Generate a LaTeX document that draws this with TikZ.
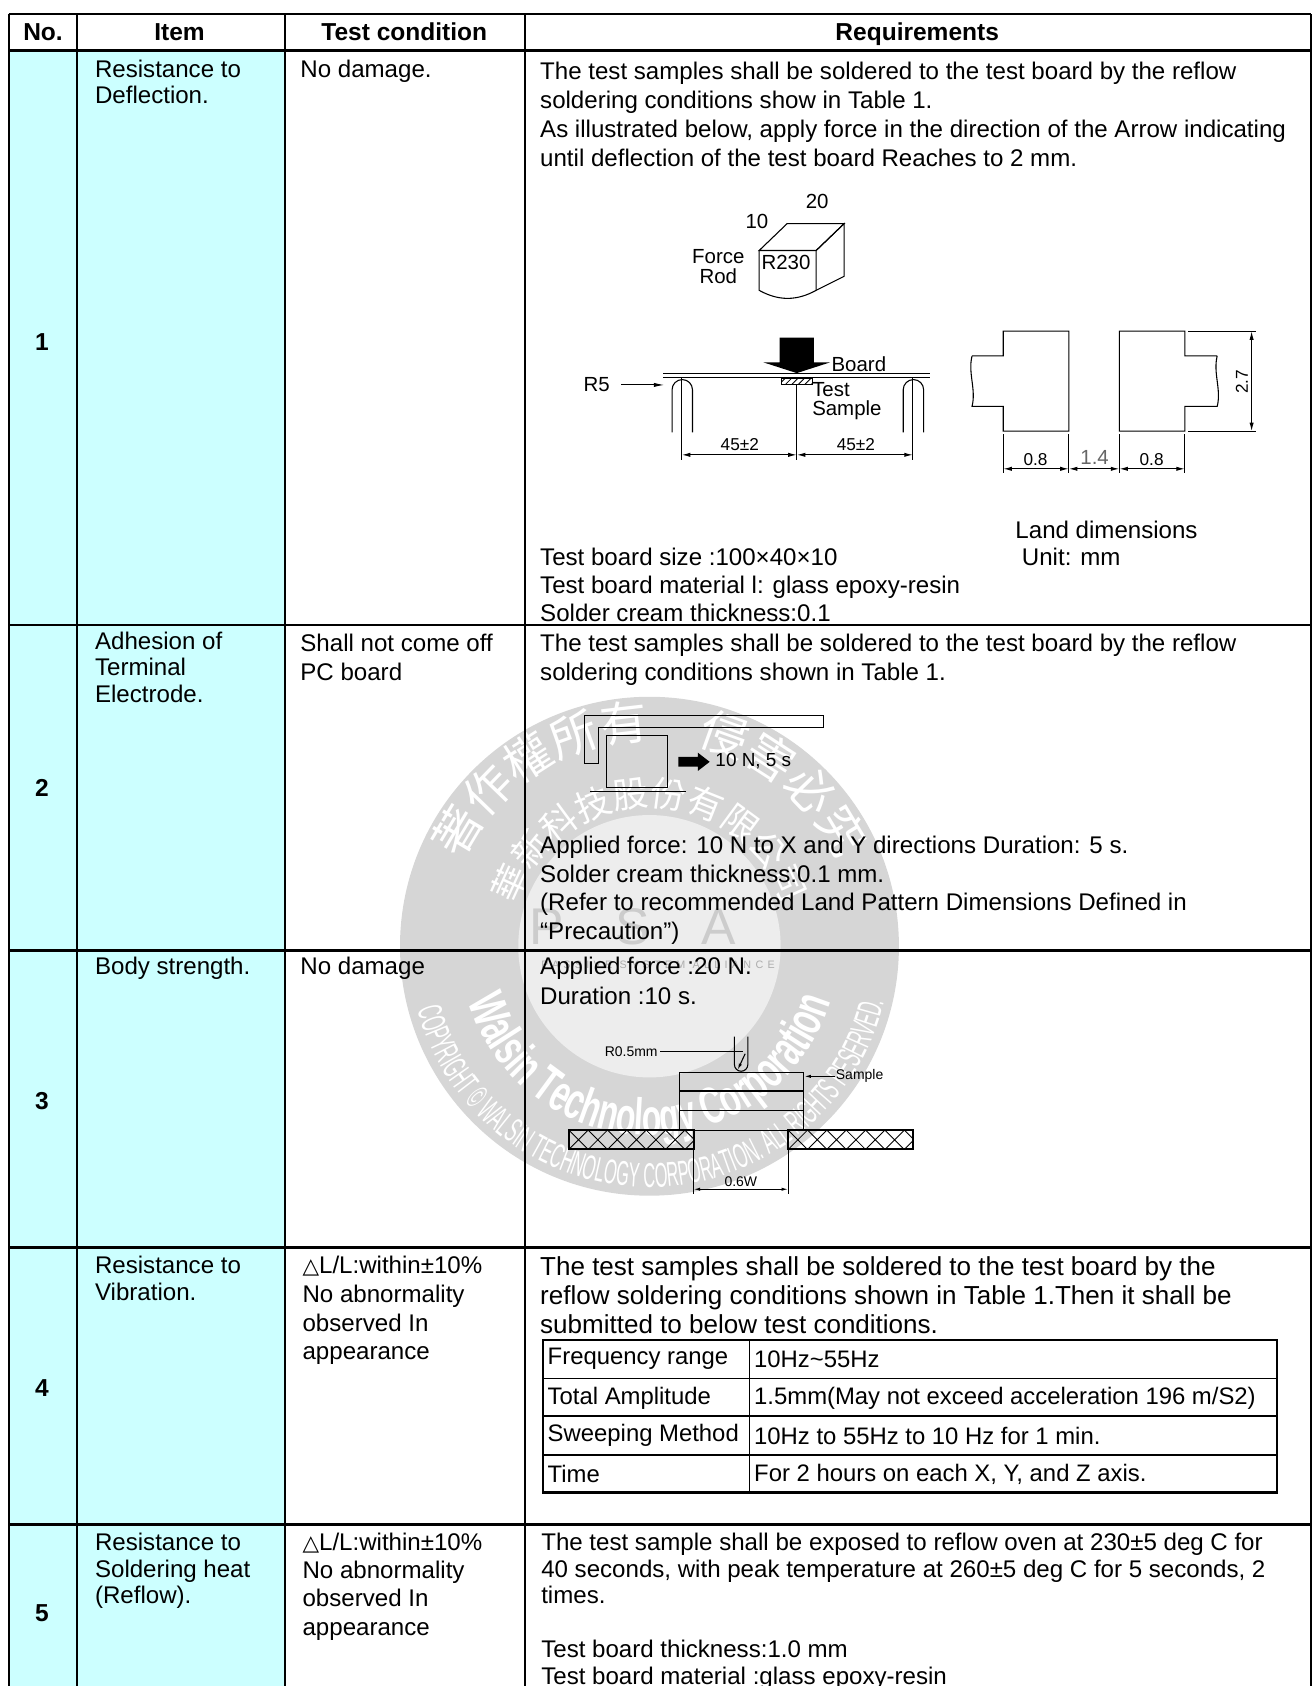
\documentclass[tikz,border=0pt]{standalone}
\usepackage{fontspec}
\setmainfont{Liberation Sans}
\newfontfamily\trifont{DejaVu Sans}
\newfontfamily\cjkfont{Noto Sans CJK TC}
\newfontfamily\wmfont[FakeStretch=0.48]{Liberation Sans}
\newfontfamily\wmboldfont[FakeStretch=0.62]{Liberation Sans}
\usetikzlibrary{arrows.meta,patterns,decorations.text}

\definecolor{itemcyan}{RGB}{204,255,255}
\definecolor{wmgray}{RGB}{214,214,214}
\definecolor{wmlight}{RGB}{237,237,237}
\definecolor{wmletter}{RGB}{204,204,204}

\newcommand{\dtri}{{\trifont\fontsize{10pt}{10pt}\selectfont △}}

\tikzset{
  tableline/.style={line width=1pt},
  heavyline/.style={line width=1.6pt},
  fig/.style={line width=0.5pt},
  dimarrow/.style={line width=0.5pt, {Latex[length=4pt,width=2pt]}-{Latex[length=4pt,width=2pt]}},
  headtext/.style={anchor=base, inner sep=0pt, font=\bfseries\fontsize{11.4pt}{12pt}\selectfont},
  celltext/.style={anchor=north west, inner sep=0pt, align=left, font=\fontsize{11.2pt}{13.5pt}\selectfont},
  itemtext/.style={anchor=north west, inner sep=0pt, align=left, font=\fontsize{11.2pt}{12.5pt}\selectfont},
  tabtext/.style={anchor=west, inner sep=0pt, font=\fontsize{11.1pt}{12pt}\selectfont},
  figlabel/.style={inner sep=0pt, font=\fontsize{9.5pt}{9pt}\selectfont},
  dimlabel/.style={inner sep=0pt, font=\fontsize{8pt}{8pt}\selectfont},
  smalllabel/.style={inner sep=0pt, font=\fontsize{6.5pt}{6.5pt}\selectfont},
}

\begin{document}
\begin{tikzpicture}[x=0.5pt, y=-0.5pt]
    \useasboundingbox (0,0) rectangle (1220,1568);

    % Draw the shaded columns
    \fill[itemcyan] (8,47) rectangle (265,1568);

    % Draw the watermark
    \begin{scope}[shift={(604,880)}, y=0.5pt]
        \fill[wmgray] (0,0) circle[radius=232];
        \fill[wmlight] (0,0) circle[radius=122];
        \node[text=wmletter, font=\fontsize{24pt}{24pt}\selectfont] (psa) at (-16,18) {P\hspace{24pt}S\hspace{24pt}A};
        \node[text=wmletter!85!black, font=\fontsize{5pt}{5pt}\selectfont\addfontfeature{LetterSpace=40}] (psaname) at (8,-17) {PASSIVE SYSTEM ALLIANCE};
        \path[decorate, decoration={text along path, text align=center,
            text={|\cjkfont\fontsize{22pt}{22pt}\selectfont\color{white}|著作權所有　侵害必究}}]
            (165:192) arc[start angle=165, end angle=15, radius=192];
        \path[decorate, decoration={text along path, text align=center,
            text={|\cjkfont\fontsize{16.5pt}{16.5pt}\selectfont\color{white}|華新科技股份有限公司}}]
            (170:130) arc[start angle=170, end angle=10, radius=130];
        \path[decorate, decoration={text along path, text align=center,
            text={|\wmfont\fontsize{16pt}{16pt}\selectfont\color{white}|COPYRIGHT © WALSIN TECHNOLOGY CORPORATION. ALL RIGHTS RESERVED.}}]
            (185:224) arc[start angle=185, end angle=357, radius=224];
        \path[decorate, decoration={text along path, text align=center,
            text={|\wmboldfont\bfseries\fontsize{24pt}{24pt}\selectfont\color{white}|Walsin Technology Corporation}}]
            (192:176) arc[start angle=192, end angle=348, radius=176];
    \end{scope}

    % Draw the table rules
    \draw[tableline] (8,13) -- (1219,13);
    \draw[heavyline] (8,47) -- (1219,47);
    \draw[tableline] (8,581) -- (1219,581);
    \draw[tableline] (8,884) -- (1219,884);
    \draw[heavyline] (8,1160) -- (1219,1160);
    \draw[heavyline] (8,1418) -- (1219,1418);
    \foreach \cx in {8,72,265,488,1219}
        \draw[tableline] (\cx,13) -- (\cx,1568);

    % Draw the header
    \node[headtext] (hno) at (40,38) {No.};
    \node[headtext] (hitem) at (167,38) {Item};
    \node[headtext] (hcond) at (376,38) {Test condition};
    \node[headtext] (hreq) at (853,38) {Requirements};
    \foreach \rn/\ry in {1/326,2/741,3/1032,4/1299,5/1508}
        \node[headtext] (no\rn) at (39,\ry) {\rn};

    % Row 1: resistance to deflection
    \node[itemtext] (item1) at (88,55) {Resistance to\\Deflection.};
    \node[celltext] (cond1) at (279,55) {No damage.};
    \node[celltext] (req1) at (502,57) {The test samples shall be soldered to the test board by the reflow\\soldering conditions show in Table 1.\\As illustrated below, apply force in the direction of the Arrow indicating\\until deflection of the test board Reaches to 2 mm.};
    \node[celltext, font=\fontsize{11.2pt}{13.1pt}\selectfont] (board1) at (502,509) {Test board size :100×40×10\\Test board material l: glass epoxy-resin\\Solder cream thickness:0.1};
    \node[itemtext] (landcap) at (944,484) {Land dimensions\\\hspace{3pt}Unit: mm};

    % Draw the force rod
    \draw[fig] (706,233) -- (732,208) -- (785,208) -- (759,233) -- cycle;
    \draw[fig] (759,233) -- (785,208) -- (785,257) -- (759,270);
    \draw[fig] (706,233) -- (706,270) .. controls (724,280) and (741,280) .. (759,270) -- (759,233);
    \node[figlabel] (rodwidth) at (760,187) {20};
    \node[figlabel] (rodheight) at (704,206) {10};
    \node[figlabel, align=center] (rodname) at (668,248) {Force\\Rod};
    \node[figlabel] (rodradius) at (731,244) {R230};

    % Draw the pressing arrow and the board
    \fill (725,314) -- (757,314) -- (757,337) -- (772,337) -- (741,347) -- (710,337) -- (725,337) -- cycle;
    \draw[fig] (617,347) -- (865,347) (617,351) -- (865,351);
    \node[figlabel, anchor=west] (board) at (773,339) {Board};
    \draw[fig, pattern=north east lines] (727,352) rectangle (756,358);
    \node[figlabel, anchor=north west, align=left] (sample) at (755,355) {Test\\Sample};

    % Draw the supports
    \draw[fig] (625,402) -- (625,362.5) arc[start angle=180, end angle=360, radius=9.5] -- (644,402);
    \draw[fig] (840,402) -- (840,362.5) arc[start angle=180, end angle=360, radius=9.5] -- (859,402);
    \draw[fig] (634,351) -- (634,428) (741,358) -- (741,428) (849,351) -- (849,428);
    \draw[dimarrow] (634,423) -- (741,423);
    \draw[dimarrow] (741,423) -- (849,423);
    \node[dimlabel] (spanleft) at (688,413) {45±2};
    \node[dimlabel] (spanright) at (796,413) {45±2};
    \node[figlabel] (rfive) at (555,358) {R5};
    \coordinate (supporttop) at (618,358);
    \draw[fig, -{Latex[length=5pt,width=2pt]}] (rfive.east) ++(10,0) -- (supporttop);

    % Draw the land pattern
    \draw[fig] (904,331) -- (933,331) -- (933,308) -- (994,308) -- (994,401) -- (933,401) -- (933,378) -- (904,378)
        .. controls (908,362) and (900,347) .. (904,331);
    \draw[fig] (1132,331) -- (1102,331) -- (1102,308) -- (1041,308) -- (1041,401) -- (1102,401) -- (1102,378) -- (1132,378)
        .. controls (1136,362) and (1128,347) .. (1132,331);
    \draw[fig] (1105,308) -- (1168,308) (1105,401) -- (1168,401);
    \draw[dimarrow] (1164,308) -- (1164,401);
    \node[dimlabel, rotate=90] (landheight) at (1155,355) {2.7};
    \foreach \ex in {933,994,1041,1102}
        \draw[fig] (\ex,404) -- (\ex,440);
    \draw[dimarrow] (933,436) -- (994,436);
    \draw[dimarrow] (994,436) -- (1041,436);
    \draw[dimarrow] (1041,436) -- (1102,436);
    \node[dimlabel] (padleft) at (963,427) {0.8};
    \node[dimlabel, text=black!60, font=\fontsize{9.5pt}{9.5pt}\selectfont] (padgap) at (1018,425) {1.4};
    \node[dimlabel] (padright) at (1071,427) {0.8};

    % Row 2: adhesion of terminal electrode
    \node[itemtext] (item2) at (88,587) {Adhesion of\\Terminal\\Electrode.};
    \node[celltext] (cond2) at (279,589) {Shall not come off\\PC board};
    \node[celltext] (req2) at (502,589) {The test samples shall be soldered to the test board by the reflow\\soldering conditions shown in Table 1.};
    \node[celltext, font=\fontsize{11.2pt}{13.35pt}\selectfont] (force2) at (502,777) {Applied force: 10 N to X and Y directions Duration: 5 s.\\Solder cream thickness:0.1 mm.\\(Refer to recommended Land Pattern Dimensions Defined in\\“Precaution”)};

    % Draw the push tool and the chip
    \draw[fig] (544,665) -- (766,665) -- (766,677) -- (557,677) -- (557,710) -- (544,710) -- cycle;
    \draw[fig] (564,684) rectangle (621,732);
    \draw[fig] (549,736) -- (638,736);
    \fill (631,704) -- (649,704) -- (649,700) -- (660,708.5) -- (649,717) -- (649,713) -- (631,713) -- cycle;
    \node[anchor=west, inner sep=0pt, font=\fontsize{8.8pt}{8.8pt}\selectfont] (pushforce) at (665,708) {10 N, 5 s};

    % Row 3: body strength
    \node[itemtext] (item3) at (88,890) {Body strength.};
    \node[celltext] (cond3) at (279,890) {No damage};
    \node[celltext, font=\fontsize{11.2pt}{14pt}\selectfont] (req3) at (502,890) {Applied force :20 N.\\Duration :10 s.};

    % Draw the body strength set-up
    \draw[fig] (632,997) rectangle (747,1051);
    \draw[line width=1pt] (632,1015) -- (747,1015);
    \draw[fig] (632,1033) -- (747,1033);
    \foreach \bx in {529,733} {
        \begin{scope}
            \clip (\bx,1051) rectangle ++(116,18);
            \foreach \k in {0,...,6}
                \draw[line width=0.4pt] (\bx+\k*18,1051) -- ++(18,18) (\bx+\k*18+18,1051) -- ++(-18,18);
        \end{scope}
        \draw[line width=0.9pt] (\bx,1051) rectangle ++(116,18);
    }
    \draw[fig] (683,964) -- (683,990) arc[start angle=180, end angle=0, radius=6.25] -- (695.5,964);
    \draw[fig, -{Latex[length=3pt,width=1.5pt]}] (693,980) -- (686,995);
    \node[smalllabel, anchor=east] (tipradius) at (612,978) {R0.5mm};
    \coordinate (tipline) at (691,978);
    \draw[fig] (tipradius.east) ++(2,0) -- (tipline);
    \node[smalllabel, anchor=west] (samplename) at (777,1001) {Sample};
    \coordinate (sampleedge) at (748,1001);
    \draw[fig, -{Latex[length=3pt,width=1.5pt]}] (samplename.west) -- (sampleedge);
    \draw[fig] (645,1069) -- (645,1110) (733,1069) -- (733,1110);
    \draw[fig, {Latex[length=3pt,width=1.5pt]}-{Latex[length=3pt,width=1.5pt]}] (645,1106) -- (733,1106);
    \node[smalllabel] (gapwidth) at (689,1099) {0.6W};

    % Row 4: resistance to vibration
    \node[itemtext] (item4) at (88,1168) {Resistance to\\Vibration.};
    \node[celltext, font=\fontsize{11.2pt}{13.3pt}\selectfont] (cond4) at (281,1168) {\dtri L/L:within±10\%\\No abnormality\\observed In\\appearance};
    \node[celltext, font=\fontsize{12.1pt}{13.5pt}\selectfont] (req4) at (502,1168) {The test samples shall be soldered to the test board by the\\reflow soldering conditions shown in Table 1.Then it shall be\\submitted to below test conditions.};

    % Draw the vibration condition table
    \draw[tableline] (505,1246) rectangle (1188,1388);
    \draw[line width=0.8pt] (697,1246) -- (697,1388);
    \foreach \ty in {1282,1317,1353}
        \draw[line width=0.8pt] (505,\ty) -- (1188,\ty);
    \node[tabtext] (freqkey) at (509,1264) {Frequency range};
    \node[tabtext] (freqval) at (701,1264) {10Hz\textasciitilde55Hz};
    \node[tabtext] (ampkey) at (509,1300) {Total Amplitude};
    \node[tabtext] (ampval) at (701,1300) {1.5mm(May not exceed acceleration 196 m/S2)};
    \node[tabtext] (sweepkey) at (509,1335) {Sweeping Method};
    \node[tabtext] (sweepval) at (701,1335) {10Hz to 55Hz to 10 Hz for 1 min.};
    \node[tabtext] (timekey) at (509,1371) {Time};
    \node[tabtext] (timeval) at (701,1371) {For 2 hours on each X, Y, and Z axis.};

    % Row 5: resistance to soldering heat
    \node[itemtext] (item5) at (88,1425) {Resistance to\\Soldering heat\\(Reflow).};
    \node[celltext, font=\fontsize{11.2pt}{13.2pt}\selectfont] (cond5) at (281,1425) {\dtri L/L:within±10\%\\No abnormality\\observed In\\appearance};
    \node[celltext, font=\fontsize{11.2pt}{12.5pt}\selectfont] (req5) at (503,1425) {The test sample shall be exposed to reflow oven at 230±5 deg C for\\40 seconds, with peak temperature at 260±5 deg C for 5 seconds, 2\\times.\\[12.5pt]Test board thickness:1.0 mm\\Test board material :glass epoxy-resin};
\end{tikzpicture}
\end{document}
